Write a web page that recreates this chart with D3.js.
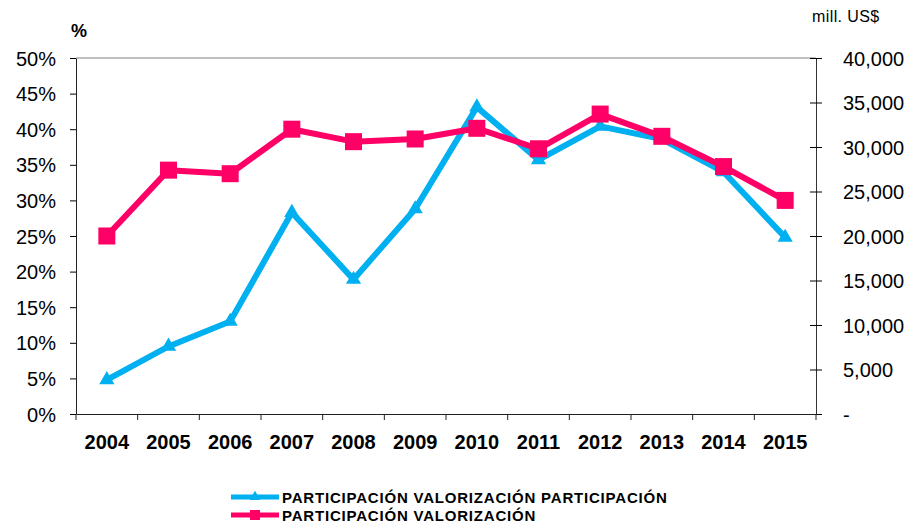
<!DOCTYPE html>
<html lang="es">
<head>
  <meta charset="UTF-8">
  <title>Participación y valorización</title>
  <script src="https://d3js.org/d3.v7.min.js"></script>
  <style>
    body { margin: 0; background: #fff; font-family: "Liberation Sans", Arial, sans-serif; }
    .tick text { font-family: "Liberation Sans", Arial, sans-serif; fill: #000; }
    .legend text { font-weight: bold; font-size: 15px; letter-spacing: 0.8px; }
  </style>
</head>
<body>
  <div id="chart"></div>
  <script>
    // data
    const years = ["2004", "2005", "2006", "2007", "2008", "2009", "2010", "2011", "2012", "2013", "2014", "2015"];
    const participacion = [0.048, 0.095, 0.13, 0.283, 0.189, 0.288, 0.431, 0.357, 0.404, 0.386, 0.340, 0.248]; // left axis, %
    const valorizacion = [20000, 27400, 27000, 32000, 30600, 30900, 32100, 29800, 33700, 31200, 27800, 24000]; // right axis, mill. US$
    const leftTicks = [0, 0.05, 0.1, 0.15, 0.2, 0.25, 0.3, 0.35, 0.4, 0.45, 0.5];
    const rightTicks = [0, 5000, 10000, 15000, 20000, 25000, 30000, 35000, 40000];
    const legendLabels = ["PARTICIPACIÓN VALORIZACIÓN PARTICIPACIÓN", "PARTICIPACIÓN VALORIZACIÓN"];

    const width = 912, height = 522;
    const plotLeft = 76, plotRight = 816, plotTop = 58, plotBottom = 414;
    const blue = "#00b0f0", pink = "#ff0066";

    const svg = d3.select("#chart").append("svg")
      .attr("width", width)
      .attr("height", height);

    const x = d3.scaleBand().domain(years).range([plotLeft, plotRight]);
    const yL = d3.scaleLinear().domain([0, 0.5]).range([plotBottom, plotTop]);
    const yR = d3.scaleLinear().domain([0, 40000]).range([plotBottom, plotTop]);

    // top frame line
    svg.append("line")
      .attr("x1", plotLeft).attr("x2", plotRight)
      .attr("y1", plotTop).attr("y2", plotTop)
      .attr("stroke", "#808080");

    // left axis
    const gL = svg.append("g")
      .attr("transform", `translate(${plotLeft},0)`)
      .call(d3.axisLeft(yL).tickValues(leftTicks).tickFormat(d3.format(".0%")).tickSize(6).tickPadding(14).tickSizeOuter(0));
    gL.selectAll("text").style("font-size", "20px").attr("dy", "0.35em");
    gL.select(".domain").attr("stroke", "#222");

    // right axis with crossing ticks
    const gR = svg.append("g")
      .attr("transform", `translate(${plotRight},0)`)
      .call(d3.axisRight(yR).tickValues(rightTicks)
        .tickFormat(d => d === 0 ? "-" : d3.format(",")(d)).tickSize(6).tickPadding(21).tickSizeOuter(0));
    gR.selectAll(".tick line").attr("x1", -6);
    gR.selectAll("text").style("font-size", "20px").attr("dy", "0.35em");
    gR.select(".domain").attr("stroke", "#333");

    // bottom axis: ticks at category boundaries
    const gB = svg.append("g")
      .attr("transform", `translate(0,${plotBottom})`)
      .call(d3.axisBottom(x).tickSize(0).tickPadding(21));
    gB.selectAll("text").style("font-size", "20px").style("font-weight", "bold");
    gB.select(".domain").attr("stroke", "#222");
    const edges = years.map(d => x(d)).concat([x(years[years.length - 1]) + x.bandwidth()]);
    gB.selectAll(".edge")
      .data(edges)
      .join("line")
      .attr("class", "edge")
      .attr("x1", d => d).attr("x2", d => d)
      .attr("y1", 0).attr("y2", 6)
      .attr("stroke", "#222");

    // axis titles
    svg.append("text").attr("x", 71).attr("y", 37)
      .style("font-size", "18px").style("font-weight", "bold").text("%");
    svg.append("text").attr("x", 812).attr("y", 22)
      .style("font-size", "16px").style("letter-spacing", "0.4px").text("mill.  US$");

    const cx = d => x(d) + x.bandwidth() / 2;

    // blue series (left axis)
    const blueLine = d3.line().x((d, i) => cx(years[i])).y(d => yL(d));
    svg.append("path").datum(participacion)
      .attr("d", blueLine)
      .attr("fill", "none").attr("stroke", blue).attr("stroke-width", 6)
      .attr("stroke-linejoin", "miter");
    const tri = d3.symbol().type(d3.symbolTriangle).size(100);
    svg.selectAll(".tri").data(participacion).join("path")
      .attr("class", "tri")
      .attr("d", tri)
      .attr("transform", (d, i) => `translate(${cx(years[i])},${yL(d)})`)
      .attr("fill", blue);

    // pink series (right axis)
    const pinkLine = d3.line().x((d, i) => cx(years[i])).y(d => yR(d));
    svg.append("path").datum(valorizacion)
      .attr("d", pinkLine)
      .attr("fill", "none").attr("stroke", pink).attr("stroke-width", 6)
      .attr("stroke-linejoin", "round");
    svg.selectAll(".sq").data(valorizacion).join("rect")
      .attr("class", "sq")
      .attr("x", (d, i) => cx(years[i]) - 8.5)
      .attr("y", d => yR(d) - 8.5)
      .attr("width", 17).attr("height", 17)
      .attr("fill", pink);

    // legend
    const legend = svg.append("g").attr("class", "legend");
    const colors = [blue, pink];
    legendLabels.forEach((label, i) => {
      const ly = 497 + i * 18;
      legend.append("line")
        .attr("x1", 231).attr("x2", 279).attr("y1", ly).attr("y2", ly)
        .attr("stroke", colors[i]).attr("stroke-width", 5);
      if (i === 0) {
        legend.append("path").attr("d", d3.symbol().type(d3.symbolTriangle).size(50))
          .attr("transform", `translate(255,${ly})`).attr("fill", colors[i]);
      } else {
        legend.append("rect").attr("x", 250).attr("y", ly - 5).attr("width", 10).attr("height", 10)
          .attr("fill", colors[i]);
      }
      legend.append("text").attr("x", 282).attr("y", ly + 5.5).text(label);
    });
  </script>
</body>
</html>
